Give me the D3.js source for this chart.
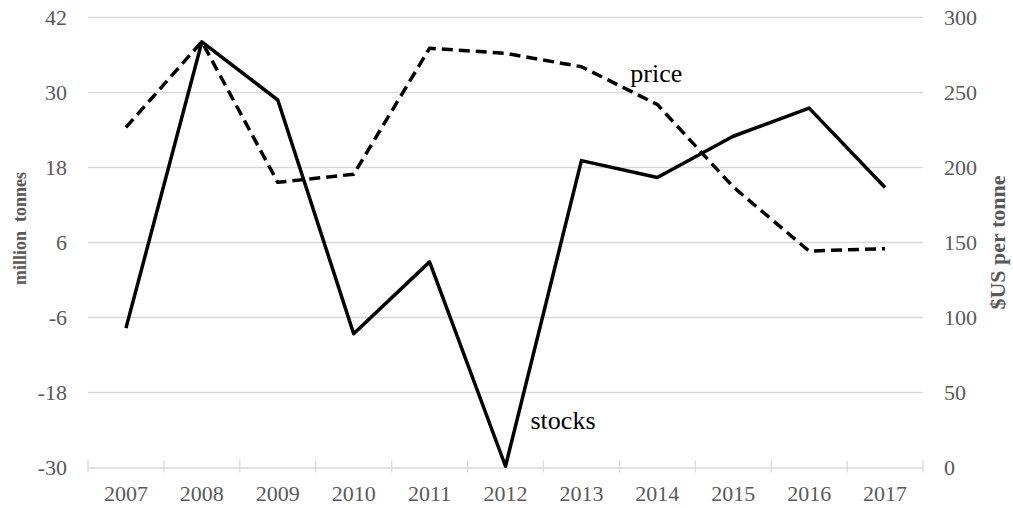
<!DOCTYPE html>
<html>
<head>
<meta charset="utf-8">
<script src="https://cdn.jsdelivr.net/npm/d3@7"></script>
<style>
  body { margin: 0; background: #fff; }
  text { font-family: "Liberation Serif", "Times New Roman", serif; }
</style>
</head>
<body>
<svg id="chart"></svg>
<script>
const years = ['2007', '2008', '2009', '2010', '2011', '2012', '2013', '2014', '2015', '2016', '2017'];
const stocks = [-7.7, 38.1, 28.8, -8.6, 2.9, -29.8, 19.1, 16.4, 23.0, 27.5, 14.8];
const price = [226.8, 283.9, 190.1, 195.5, 279.5, 276.1, 267.2, 242, 187, 144.3, 145.9];
const leftTicks = [-30, -18, -6, 6, 18, 30, 42];
const rightTicks = [0, 50, 100, 150, 200, 250, 300];

const width = 1013, height = 508;
const margin = { top: 17.5, right: 90, bottom: 40.5, left: 88 };

const svg = d3.select('#chart')
  .attr('width', width)
  .attr('height', height);

const x = d3.scaleBand()
  .domain(years)
  .range([margin.left, width - margin.right]);

const yLeft = d3.scaleLinear()
  .domain([-30, 42])
  .range([height - margin.bottom, margin.top]);

const yRight = d3.scaleLinear()
  .domain([0, 300])
  .range([height - margin.bottom, margin.top]);

const grey = '#595959';
const plain = d => String(d);

// gridlines
svg.append('g')
  .selectAll('line')
  .data(leftTicks.slice(1))
  .join('line')
  .attr('x1', margin.left)
  .attr('x2', width - margin.right)
  .attr('y1', d => yLeft(d))
  .attr('y2', d => yLeft(d))
  .attr('stroke', '#d9d9d9')
  .attr('stroke-width', 1.3);

// bottom axis
const xaxis = svg.append('g')
  .attr('transform', `translate(0, ${yLeft(-30)})`)
  .call(d3.axisBottom(x).tickSize(0).tickPadding(18));
xaxis.select('.domain').attr('stroke', '#d9d9d9').attr('stroke-width', 1.3);
xaxis.selectAll('text')
  .attr('fill', grey)
  .attr('font-size', '22px')
  .attr('font-family', '"Liberation Serif", serif');

// cross ticks on band boundaries
const edges = years.map(d => x(d)).concat([x(years[years.length - 1]) + x.bandwidth()]);
svg.append('g')
  .selectAll('line')
  .data(edges)
  .join('line')
  .attr('x1', d => d)
  .attr('x2', d => d)
  .attr('y1', yLeft(-30) - 7)
  .attr('y2', yLeft(-30) + 5)
  .attr('stroke', '#d9d9d9')
  .attr('stroke-width', 1.3);

// left axis
const yaxisL = svg.append('g')
  .attr('transform', `translate(${margin.left}, 0)`)
  .call(d3.axisLeft(yLeft).tickValues(leftTicks).tickFormat(plain).tickSize(0).tickPadding(21));
yaxisL.select('.domain').remove();
yaxisL.selectAll('text')
  .attr('fill', grey)
  .attr('font-size', '22px')
  .attr('font-family', '"Liberation Serif", serif');

// right axis
const yaxisR = svg.append('g')
  .attr('transform', `translate(${width - margin.right}, 0)`)
  .call(d3.axisRight(yRight).tickValues(rightTicks).tickFormat(plain).tickSize(0).tickPadding(21));
yaxisR.select('.domain').remove();
yaxisR.selectAll('text')
  .attr('fill', grey)
  .attr('font-size', '22px')
  .attr('font-family', '"Liberation Serif", serif');

// axis titles
svg.append('text')
  .attr('transform', `translate(26, ${(margin.top + height - margin.bottom) / 2 - 14}) rotate(-90)`)
  .attr('text-anchor', 'middle')
  .attr('fill', grey)
  .attr('font-weight', 'bold')
  .attr('font-size', '18px')
  .attr('xml:space', 'preserve')
  .text('million  tonnes');

svg.append('text')
  .attr('transform', `translate(1005, ${(margin.top + height - margin.bottom) / 2}) rotate(-90)`)
  .attr('text-anchor', 'middle')
  .attr('fill', grey)
  .attr('font-weight', 'bold')
  .attr('font-size', '22px')
  .text('$US per tonne');

const cx = d => x(d) + x.bandwidth() / 2;

// price line (dashed)
svg.append('path')
  .attr('fill', 'none')
  .attr('stroke', '#000')
  .attr('stroke-width', 3.5)
  .attr('stroke-dasharray', '11,6')
  .attr('stroke-linejoin', 'round')
  .attr('d', d3.line()(years.map((d, i) => [cx(d), yRight(price[i])])));

// stocks line (solid)
svg.append('path')
  .attr('fill', 'none')
  .attr('stroke', '#000')
  .attr('stroke-width', 3.5)
  .attr('stroke-linejoin', 'round')
  .attr('d', d3.line()(years.map((d, i) => [cx(d), yLeft(stocks[i])])));

// series labels
svg.append('text')
  .attr('x', cx('2014') - 27)
  .attr('y', yRight(257))
  .attr('font-size', '26px')
  .attr('fill', '#000')
  .text('price');

svg.append('text')
  .attr('x', cx('2012') + 25)
  .attr('y', yLeft(-27) - 20)
  .attr('font-size', '26px')
  .attr('fill', '#000')
  .text('stocks');
</script>
</body>
</html>
